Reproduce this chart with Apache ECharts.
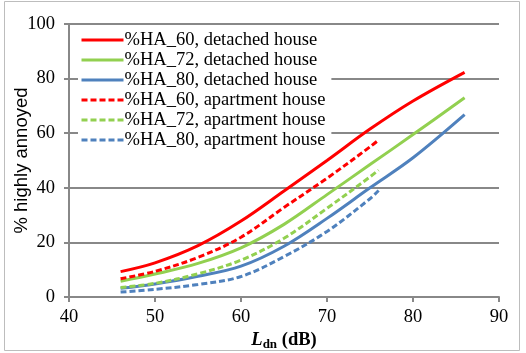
<!DOCTYPE html>
<html>
<head>
<meta charset="utf-8">
<script src="https://cdn.jsdelivr.net/npm/echarts@6/dist/echarts.min.js"></script>
<style>
  html, body { margin: 0; padding: 0; background: #fff; }
  #chart { width: 526px; height: 353px; }
</style>
</head>
<body>
<div id="chart"></div>
<script>
// values (x in dB, y in %)
var ldnDetached = [46, 50, 55, 60, 65, 70, 75, 80, 86];
var ldnApartment = [46, 50, 55, 60, 65, 70, 75, 76];

var ha60Detached = [9.3, 12.5, 18.8, 27.8, 38.8, 50, 61.5, 71.8, 82.3];
var ha72Detached = [5.8, 8.4, 12.3, 18, 26.6, 37.5, 48.5, 59.5, 73];
var ha80Detached = [3.2, 4.8, 7.6, 11.3, 18.6, 28.8, 40, 51, 66.8];

var ha60Apartment = [6.7, 9.4, 14.5, 21.9, 32.8, 43.5, 55, 57.5];
var ha72Apartment = [3.5, 5, 8.5, 13.5, 21.5, 32.5, 44, 46.5];
var ha80Apartment = [1.8, 2.8, 4.6, 7.5, 14.8, 24, 36, 39];

var names = [
  '%HA_60, detached house', '%HA_72, detached house', '%HA_80, detached house',
  '%HA_60, apartment house', '%HA_72, apartment house', '%HA_80, apartment house'
];

function pairs(xs, ys) {
  var out = [];
  for (var i = 0; i < xs.length; i++) out.push([xs[i], ys[i]]);
  return out;
}

var colors = ['#FF0000', '#92D050', '#4F81BD'];
var serif = '"Liberation Serif", "Times New Roman", serif';

function mkSeries(name, data, color, dashed) {
  return {
    name: name,
    type: 'line',
    data: data,
    smooth: 0.35,
    symbol: 'none',
    lineStyle: { color: color, width: 3, type: dashed ? [6, 3] : 'solid' },
    itemStyle: { color: color }
  };
}

var myChart = echarts.init(document.querySelector('#chart'));
var option = {
  animation: false,
  graphic: [{
    type: 'rect',
    shape: { x: 4.5, y: 1.5, width: 515, height: 349 },
    style: { fill: 'none', stroke: '#bdbdbd', lineWidth: 1 },
    z: -1
  }],
  grid: { left: 69, right: 27, top: 24, bottom: 56, containLabel: false, outerBoundsMode: 'none' },
  legend: {
    orient: 'vertical',
    left: 78,
    top: 29,
    itemWidth: 42,
    itemHeight: 12,
    itemGap: 0,
    padding: [1, 6, 1, 2],
    backgroundColor: '#fff',
    lineStyle: { width: 3 },
    itemStyle: { color: 'rgba(0,0,0,0)', borderColor: 'rgba(0,0,0,0)', borderWidth: 0 },
    textStyle: { fontFamily: serif, fontSize: 18.5, lineHeight: 20, color: '#000', padding: [0, 0, 0, -4] },
    data: names
  },
  xAxis: {
    type: 'value',
    min: 40, max: 90, interval: 10,
    name: '{l|L}{s|dn}{b| (dB)}',
    nameLocation: 'middle',
    nameGap: 32,
    nameMoveOverlap: false,
    nameTextStyle: {
      rich: {
        l: { fontFamily: serif, fontSize: 18.5, fontWeight: 'bold', fontStyle: 'italic', color: '#000' },
        s: { fontFamily: serif, fontSize: 13, fontWeight: 'bold', color: '#000', padding: [9, 0, 0, 0] },
        b: { fontFamily: serif, fontSize: 18.5, fontWeight: 'bold', color: '#000' }
      }
    },
    axisLine: { lineStyle: { color: '#888', width: 2 } },
    axisTick: { show: true, length: 5, lineStyle: { color: '#888', width: 2 } },
    axisLabel: { fontFamily: serif, fontSize: 18.5, color: '#000', margin: 11 },
    splitLine: { show: false }
  },
  yAxis: {
    type: 'value',
    min: 0, max: 100, interval: 20,
    name: '% highly annoyed',
    nameLocation: 'middle',
    nameGap: 38,
    nameMoveOverlap: false,
    nameTextStyle: { fontFamily: '"Liberation Sans", Arial, sans-serif', fontSize: 18.5, color: '#000' },
    axisLine: { show: true, lineStyle: { color: '#888', width: 2 } },
    axisTick: { show: true, length: 5, lineStyle: { color: '#888', width: 2 } },
    axisLabel: { fontFamily: serif, fontSize: 18.5, color: '#000', margin: 14 },
    splitLine: { lineStyle: { color: '#888', width: 2 } }
  },
  series: [
    mkSeries(names[0], pairs(ldnDetached, ha60Detached), colors[0], false),
    mkSeries(names[1], pairs(ldnDetached, ha72Detached), colors[1], false),
    mkSeries(names[2], pairs(ldnDetached, ha80Detached), colors[2], false),
    mkSeries(names[3], pairs(ldnApartment, ha60Apartment), colors[0], true),
    mkSeries(names[4], pairs(ldnApartment, ha72Apartment), colors[1], true),
    mkSeries(names[5], pairs(ldnApartment, ha80Apartment), colors[2], true)
  ]
};
myChart.setOption(option);
window.addEventListener('resize', function () {
  myChart.resize();
});
</script>
</body>
</html>
